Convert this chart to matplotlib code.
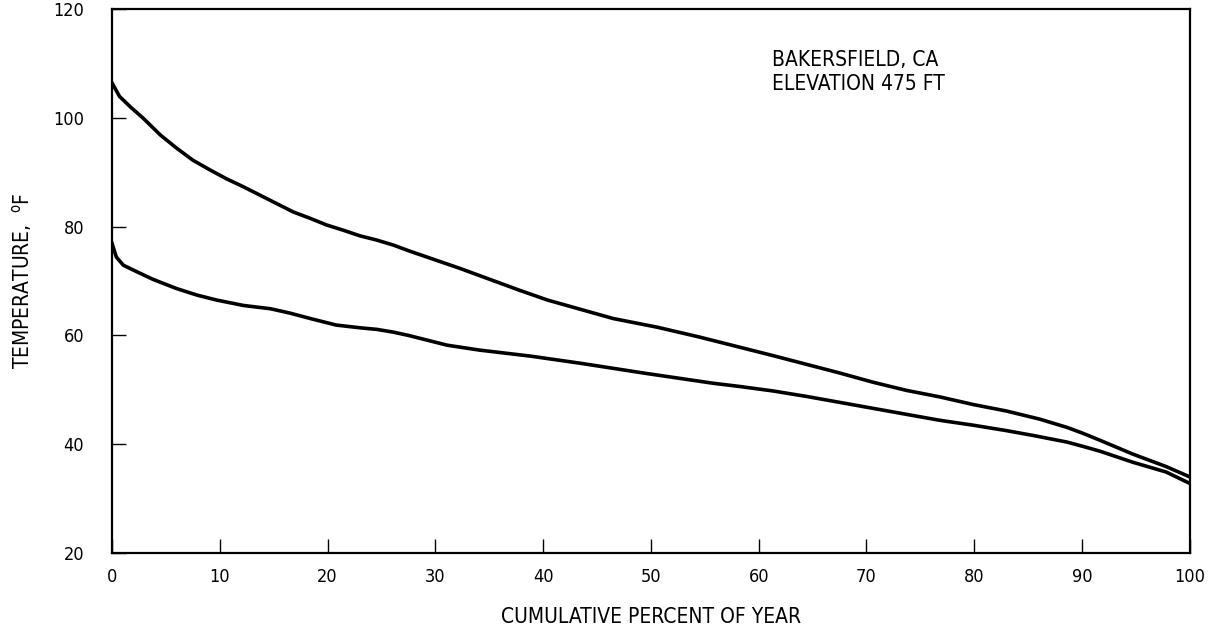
import numpy as np
import matplotlib
matplotlib.use('Agg')
import matplotlib.pyplot as plt

# Values (cumulative percent of year, deg F)
pct_upper = [0, 0.7, 1.7, 2.9, 4.5, 6, 7.5, 9.1, 10.6, 12.2, 13.7, 15.3, 16.8,
             18.4, 19.9, 21.5, 23, 24.6, 26.1, 27.6, 32.3, 37.8, 40.4, 46.5,
             50.6, 54.5, 58.3, 61.3, 64.4, 67.5, 70.6, 73.7, 76.8, 79.9, 83,
             86.1, 88.6, 90.1, 91.7, 94.7, 97.8, 100]
temp_upper = [106.4, 103.9, 102.0, 99.9, 96.8, 94.4, 92.2, 90.4, 88.8, 87.3,
              85.8, 84.2, 82.7, 81.5, 80.3, 79.3, 78.3, 77.5, 76.6, 75.5,
              72.3, 68.3, 66.5, 63.1, 61.5, 59.7, 57.8, 56.3, 54.7, 53.1,
              51.4, 49.9, 48.7, 47.3, 46.1, 44.6, 43.1, 42.0, 40.7, 38.2,
              35.9, 34.0]

pct_lower = [0, 0.4, 1.05, 2.3, 3.8, 6, 7.9, 9.7, 12.2, 14.7, 16.5, 18.4,
             20.8, 23, 24.6, 26.1, 27.5, 31.1, 34.1, 38.8, 43.4, 49.6, 55.8,
             58.3, 61.3, 64.4, 67.5, 70.6, 73.7, 76.8, 79.9, 83, 85.5, 88.6,
             90.1, 91.7, 94.7, 97.8, 100]
temp_lower = [76.9, 74.4, 72.9, 71.7, 70.3, 68.6, 67.4, 66.5, 65.5, 64.9,
              64.1, 63.1, 61.9, 61.4, 61.1, 60.6, 60.0, 58.2, 57.3, 56.2,
              54.9, 53.0, 51.2, 50.6, 49.8, 48.8, 47.7, 46.6, 45.5, 44.4,
              43.5, 42.5, 41.6, 40.4, 39.6, 38.7, 36.7, 34.9, 32.8]

x_ticks = [0, 10, 20, 30, 40, 50, 60, 70, 80, 90, 100]
y_ticks = [20, 40, 60, 80, 100, 120]

plt.rcParams['font.family'] = ['DejaVu Sans']
plt.rcParams['font.stretch'] = 'condensed'

fig = plt.figure(figsize=(12.11, 6.35), dpi=100)
ax = fig.add_axes([0.0925, 0.129, 0.890, 0.857])

ax.plot(pct_upper, temp_upper, color='black', linewidth=2.6,
        solid_joinstyle='round')
ax.plot(pct_lower, temp_lower, color='black', linewidth=2.6,
        solid_joinstyle='round')

ax.set_xlim(0, 100)
ax.set_ylim(20, 120)
ax.set_xticks(x_ticks)
ax.set_yticks(y_ticks)
ax.tick_params(axis='x', direction='in', length=10, width=1.0, pad=11,
               labelsize=13, top=False)
ax.tick_params(axis='y', direction='in', length=10, width=1.0, pad=20,
               labelsize=13, right=False)
for s in ax.spines.values():
    s.set_linewidth(1.6)

ax.set_xlabel('CUMULATIVE PERCENT OF YEAR', fontsize=15, labelpad=15)
ax.set_ylabel(r'TEMPERATURE,  $^{\mathrm{o}}$F', fontsize=15, labelpad=14)

ax.text(0.612, 0.925, 'BAKERSFIELD, CA\nELEVATION 475 FT', transform=ax.transAxes,
        fontsize=15, va='top', ha='left', linespacing=1.25)

plt.savefig('out.png', dpi=100)
